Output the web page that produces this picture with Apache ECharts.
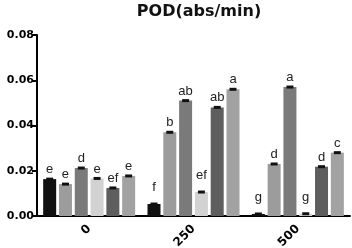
<!DOCTYPE html>
<html>
<head>
<meta charset="utf-8">
<script src="https://cdn.jsdelivr.net/npm/echarts@6/dist/echarts.min.js"></script>
<style>
  html, body { margin: 0; padding: 0; background: #fff; }
  #chart { width: 352px; height: 248px; }
</style>
</head>
<body>
<div id="chart"></div>
<script>
var categories = ['0', '250', '500']
var yTicks = [0, 0.02, 0.04, 0.06, 0.08]

// one array per treatment, values for 0 / 250 / 500
var s1 = [0.0163, 0.0053, 0.0009]
var s2 = [0.0141, 0.0370, 0.0230]
var s3 = [0.0212, 0.0510, 0.0570]
var s4 = [0.0166, 0.0106, 0.0010]
var s5 = [0.0124, 0.0480, 0.0218]
var s6 = [0.0177, 0.0560, 0.0280]

// significance letters
var l1 = ['e', 'f', 'g']
var l2 = ['e', 'b', 'd']
var l3 = ['d', 'ab', 'a']
var l4 = ['e', 'ef', 'g']
var l5 = ['ef', 'ab', 'd']
var l6 = ['e', 'a', 'c']

var values = [s1, s2, s3, s4, s5, s6]
var letters = [l1, l2, l3, l4, l5, l6]
var colors = ['#111111', '#9c9c9c', '#7a7a7a', '#d2d2d2', '#5e5e5e', '#a2a2a2']

var barW = 13
var gap = 2.8

var chart = echarts.init(document.getElementById('chart'))

var series = values.map(function (vals, i) {
  return {
    name: 's' + (i + 1),
    type: 'bar',
    barWidth: barW,
    barGap: (gap / barW * 100) + '%',
    itemStyle: { color: colors[i] },
    data: vals.map(function (v, j) {
      return {
        value: v,
        label: {
          show: true,
          position: 'top',
          distance: v < 0.012 ? 10 : 3,
          formatter: letters[i][j],
          fontFamily: 'Liberation Sans',
          fontSize: 13,
          color: '#222'
        }
      }
    })
  }
})

// small dark caps on top of each bar (error bars)
var capData = []
values.forEach(function (vals, i) {
  vals.forEach(function (v, j) {
    capData.push([j, i, v])
  })
})
series.push({
  type: 'custom',
  silent: true,
  z: 5,
  encode: { x: 0, y: 2 },
  data: capData,
  renderItem: function (params, api) {
    var pt = api.coord([api.value(0), api.value(2)])
    var x = pt[0] + (api.value(1) - 2.5) * (barW + gap)
    return {
      type: 'rect',
      shape: { x: x - 3.5, y: pt[1] - 1.5, width: 7, height: 3 },
      style: { fill: '#111' }
    }
  }
})

var option = {
  animation: false,
  title: {
    text: 'POD(abs/min)',
    left: 194,
    textAlign: 'center',
    top: -1,
    textStyle: { fontFamily: 'DejaVu Sans', fontWeight: 'bold', fontSize: 16, color: '#111' }
  },
  grid: { left: 37, right: 2, top: 35, bottom: 32, outerBoundsMode: 'none' },
  xAxis: {
    type: 'category',
    data: categories,
    axisLine: { lineStyle: { color: '#000', width: 2 } },
    axisTick: { alignWithLabel: true, length: 5, lineStyle: { width: 2, color: '#000' } },
    axisLabel: {
      rotate: 45,
      margin: 11,
      color: '#000',
      fontFamily: 'DejaVu Sans',
      fontWeight: 'bold',
      fontSize: 12
    }
  },
  yAxis: {
    type: 'value',
    min: yTicks[0],
    max: yTicks[yTicks.length - 1],
    interval: 0.02,
    axisLine: { show: true, lineStyle: { color: '#000', width: 2 } },
    axisTick: { show: true, length: 5, lineStyle: { width: 2, color: '#000' } },
    splitLine: { show: false },
    axisLabel: {
      margin: 3,
      color: '#000',
      fontFamily: 'DejaVu Sans',
      fontWeight: 'bold',
      fontSize: 11,
      formatter: function (v) { return v.toFixed(2) }
    }
  },
  series: series
}
chart.setOption(option)
</script>
</body>
</html>
